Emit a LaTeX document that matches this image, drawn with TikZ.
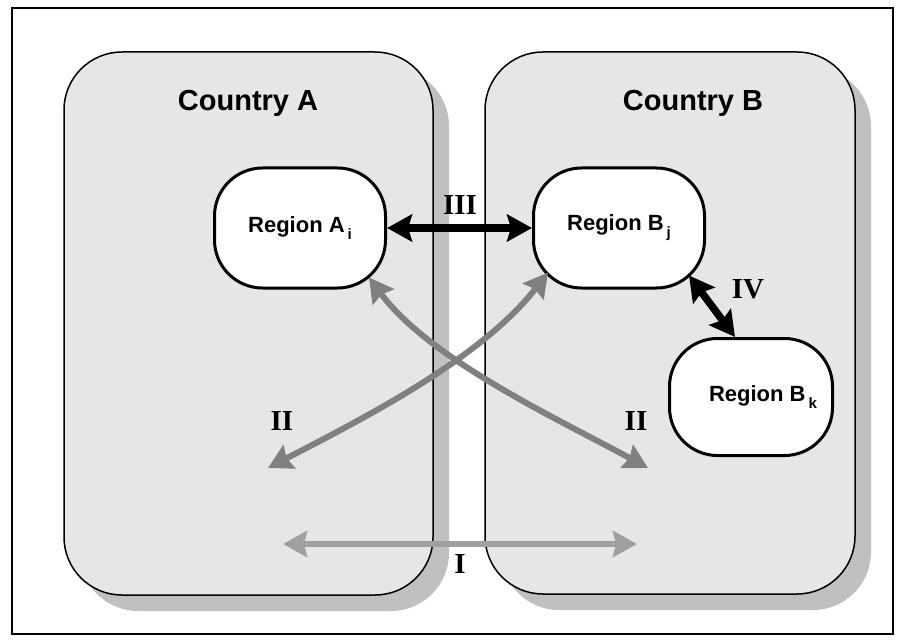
\documentclass[tikz,border=0pt]{standalone}
\usepackage{fontspec}
\setmainfont{Liberation Sans}
\newfontfamily\romanfont{Liberation Serif}
\usetikzlibrary{arrows.meta, calc, positioning}

\definecolor{countryfill}{HTML}{E6E6E6}
\definecolor{shadowgray}{HTML}{C0C0C0}
\definecolor{flowgray}{HTML}{808080}
\definecolor{lightflow}{HTML}{A0A0A0}

\newcommand{\regsub}[1]{\kern3pt\raisebox{-7pt}{\fontsize{15}{15}\selectfont #1}}

\tikzset{
  country/.style={fill=countryfill,draw=black,line width=1.5pt,rounded corners=58pt},
  countryshadow/.style={fill=shadowgray,rounded corners=58pt},
  countrylabel/.style={font=\bfseries\fontsize{29}{32}\selectfont},
  region/.style={draw=black,fill=white,line width=3pt,rounded corners=48pt,
    minimum width=171pt,minimum height=120pt,inner sep=0pt,
    font=\bfseries\fontsize{22}{24}\selectfont},
  flowlabel/.style={font=\romanfont\bfseries\fontsize{29}{30}\selectfont},
  strong/.style={line width=7.5pt,{Stealth[length=25pt,width=27pt,inset=4pt]}-{Stealth[length=25pt,width=27pt,inset=4pt]}},
  weak/.style={line width=6pt,color=flowgray,{Stealth[length=24pt,width=26pt,inset=3pt]}-{Stealth[length=24pt,width=26pt,inset=3pt]}},
  weaker/.style={weak,color=lightflow}
}

\begin{document}
\begin{tikzpicture}[x=1pt,y=-1pt]
\useasboundingbox (0,0) rectangle (904,644);
\draw[line width=2pt] (12,8) rectangle (893,634);

\fill[countryshadow] (80,68) rectangle (449,611);
\draw[country] (64,52) rectangle (433,595);
\fill[countryshadow] (501,68) rectangle (871,610);
\draw[country] (485,52) rectangle (855,594);

\node[countrylabel] (cA) at (248,103) {Country A};
\node[countrylabel] (cB) at (693,103) {Country B};

\node[region] (ai) at (300,228) {Region A\regsub{i}};
\node[region] (bj) at (619,228) {Region B\regsub{j}};
\node[region,minimum width=163pt,minimum height=117pt] (bk) at (751,397) {\hspace{24pt}Region B\regsub{k}};

\coordinate (aise) at ($(ai.south east)+(-18,-12)$);
\coordinate (bjsw) at ($(bj.south west)+(16,-17)$);
\coordinate (bjse) at ($(bj.south east)+(-17,-14)$);
\coordinate (bktop) at ($(bk.north)+(-16,0)$);
\coordinate (iiA) at (268,468);
\coordinate (iiB) at (648,468);
\coordinate (iA) at (283,544);
\coordinate (iB) at (637,544);

\draw[weaker] (iA) -- (iB);
\draw[weak] (bjsw) .. controls (480,360) and (360,420) .. (iiA);
\draw[weak] (aise) .. controls (430,360) and (560,420) .. (iiB);
\draw[strong] (ai.east) -- (bj.west);
\draw[strong] (bjse) -- (bktop);

\node[flowlabel] (lIII) at (460,205) {III};
\node[flowlabel] (lIV) at (748,289) {IV};
\node[flowlabel] (lIIa) at (282,421) {II};
\node[flowlabel] (lIIb) at (636,421) {II};
\node[flowlabel] (lI) at (460,564) {I};
\end{tikzpicture}
\end{document}
